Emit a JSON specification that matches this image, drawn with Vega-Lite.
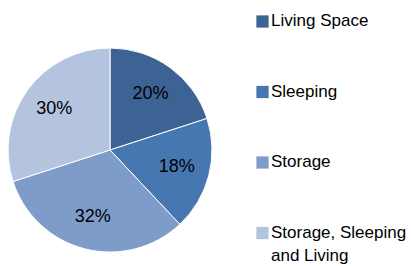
{
  "$schema": "https://vega.github.io/schema/vega-lite/v6.json",
  "width": 204,
  "height": 204,
  "autosize": {"type": "none"},
  "padding": {"left": 8, "top": 48, "right": 200, "bottom": 14},
  "background": "white",
  "config": {"view": {"stroke": null}, "font": "Liberation Sans"},
  "data": {
    "values": [
      {"category": "Living Space", "share": 20, "label": "20%", "ord": 1},
      {"category": "Sleeping", "share": 18, "label": "18%", "ord": 2},
      {"category": "Storage", "share": 32, "label": "32%", "ord": 3},
      {"category": "Storage, Sleeping and Living", "share": 30, "label": "30%", "ord": 4}
    ]
  },
  "encoding": {
    "theta": {"field": "share", "type": "quantitative", "stack": true},
    "order": {"field": "ord", "type": "quantitative"}
  },
  "layer": [
    {
      "mark": {"type": "arc", "stroke": "white", "strokeWidth": 1},
      "encoding": {
        "color": {
          "field": "category",
          "type": "nominal",
          "sort": ["Living Space", "Sleeping", "Storage", "Storage, Sleeping and Living"],
          "scale": {
            "domain": ["Living Space", "Sleeping", "Storage", "Storage, Sleeping and Living"],
            "range": ["#3c6394", "#4777b0", "#7e9cc9", "#b4c4df"]
          },
          "legend": {
            "title": null,
            "orient": "none",
            "legendX": 246,
            "legendY": -35,
            "padding": 0,
            "symbolType": "square",
            "symbolSize": 150,
            "symbolStrokeWidth": 0,
            "labelFont": "Liberation Sans",
            "labelFontSize": 17,
            "labelColor": "#000000",
            "labelOffset": 0,
            "labelLimit": 0,
            "labelBaseline": "top",
            "rowPadding": 53.5,
            "labelExpr": "datum.label == 'Storage, Sleeping and Living' ? ['Storage, Sleeping', 'and Living'] : datum.label",
            "encoding": {
              "labels": {"dy": {"value": -8.5}, "lineHeight": {"value": 23.5}}
            }
          }
        }
      }
    },
    {
      "mark": {"type": "text", "radius": 69, "fontSize": 18, "font": "Liberation Sans", "color": "#000000"},
      "encoding": {"text": {"field": "label"}}
    }
  ]
}
